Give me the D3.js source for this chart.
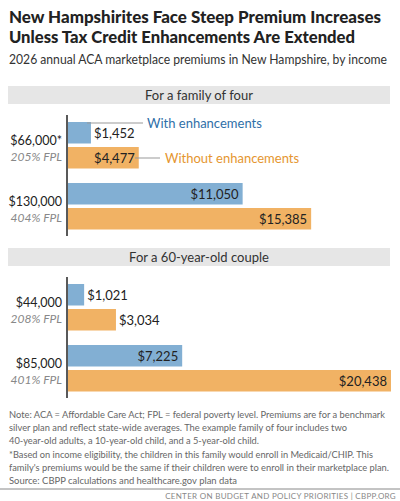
<!DOCTYPE html><html><head><meta charset="utf-8"><script src="https://cdn.jsdelivr.net/npm/d3@7"></script>
<style>body{margin:0;background:#fff}svg{font-family:Lato,"Open Sans",sans-serif}</style></head><body><svg id="c" width="400" height="501"></svg><script>
const panels=["For a family of four","For a 60-year-old couple"];
const incomes=[["$66,000*","$130,000"],["$44,000","$85,000"]];
const fpl=[["205% FPL","404% FPL"],["208% FPL","401% FPL"]];
const withEnh=[[1452,11050],[1021,7225]];
const withoutEnh=[[4477,15385],[3034,20438]];
const svg=d3.select("#c");
const blue="#82afd3",orange="#f1b264";
svg.append("text").attr("x",9).attr("y",23).attr("font-size",17.5).attr("font-weight",900).attr("fill","#222").attr("textLength",372).attr("lengthAdjust","spacingAndGlyphs").text("New Hampshirites Face Steep Premium Increases");
svg.append("text").attr("x",9).attr("y",43).attr("font-size",17.5).attr("font-weight",900).attr("fill","#222").attr("textLength",346).attr("lengthAdjust","spacingAndGlyphs").text("Unless Tax Credit Enhancements Are Extended");
svg.append("text").attr("x",9).attr("y",64).attr("font-size",12.6).attr("fill","#333").attr("textLength",378).attr("lengthAdjust","spacingAndGlyphs").text("2026 annual ACA marketplace premiums in New Hampshire, by income");
const x=d3.scaleLinear().domain([0,20438]).range([68,391]);
const fmt=v=>"$"+d3.format(",")(v);
const tops=[86,248];
panels.forEach((p,i)=>{
 const t=tops[i];
 svg.append("rect").attr("x",8).attr("y",t).attr("width",382).attr("height",18).attr("fill","#e6e6e6");
 svg.append("text").attr("x",199).attr("y",t+14).attr("text-anchor","middle").attr("font-size",13).attr("fill","#333").text(p);
 svg.append("line").attr("x1",67).attr("x2",67).attr("y1",t+29).attr("y2",t+150).attr("stroke","#222").attr("stroke-width",1.5);
 [0,1].forEach(j=>{
  const y0=[t+36,t+97][j];
  [[withEnh[i][j],blue],[withoutEnh[i][j],orange]].forEach(([v,c],k)=>{
   const yy=y0+k*25;
   svg.append("rect").attr("x",x(0)).attr("y",yy).attr("width",x(v)-x(0)).attr("height",21.5).attr("fill",c);
   const w=x(v)-x(0), inside=w>55;
   svg.append("text").attr("x",inside?x(v)-4:x(v)+3).attr("y",yy+15.5).attr("text-anchor",inside?"end":"start").attr("font-size",13).attr("fill","#222").text(fmt(v));
  });
  svg.append("text").attr("x",62).attr("y",y0+23).attr("text-anchor","end").attr("font-size",12.5).attr("fill","#222").text(incomes[i][j]);
  svg.append("text").attr("x",62).attr("y",y0+39).attr("text-anchor","end").attr("font-size",12).attr("font-style","italic").attr("fill","#888").text(fpl[i][j]);
 });
});
svg.append("line").attr("x1",87).attr("x2",143).attr("y1",123).attr("y2",123).attr("stroke","#999");
svg.append("text").attr("x",147).attr("y",128).attr("font-size",13).attr("fill","#2f6fa8").text("With enhancements");
svg.append("line").attr("x1",135).attr("x2",160).attr("y1",158).attr("y2",158).attr("stroke","#999");
svg.append("text").attr("x",165).attr("y",163).attr("font-size",13).attr("fill","#e5962f").text("Without enhancements");
const notes=[["Note: ACA = Affordable Care Act; FPL = federal poverty level. Premiums are for a benchmark",418,376],["silver plan and reflect state-wide averages. The example family of four includes two",431,338],["40-year-old adults, a 10-year-old child, and a 5-year-old child.",444,250],["*Based on income eligibility, the children in this family would enroll in Medicaid/CHIP. This",458,364],["family's premiums would be the same if their children were to enroll in their marketplace plan.",471,380],["Source: CBPP calculations and healthcare.gov plan data",484,228]];
notes.forEach(([s,yy,L])=>svg.append("text").attr("x",9).attr("y",yy).attr("font-size",9).attr("fill","#666").attr("textLength",L).attr("lengthAdjust","spacingAndGlyphs").text(s));
svg.append("line").attr("x1",0).attr("x2",400).attr("y1",489).attr("y2",489).attr("stroke","#888");
svg.append("text").attr("x",396).attr("y",499).attr("text-anchor","end").attr("font-size",8).attr("fill","#888").attr("letter-spacing",0.3).text("CENTER ON BUDGET AND POLICY PRIORITIES | CBPP.ORG");
</script></body></html>
